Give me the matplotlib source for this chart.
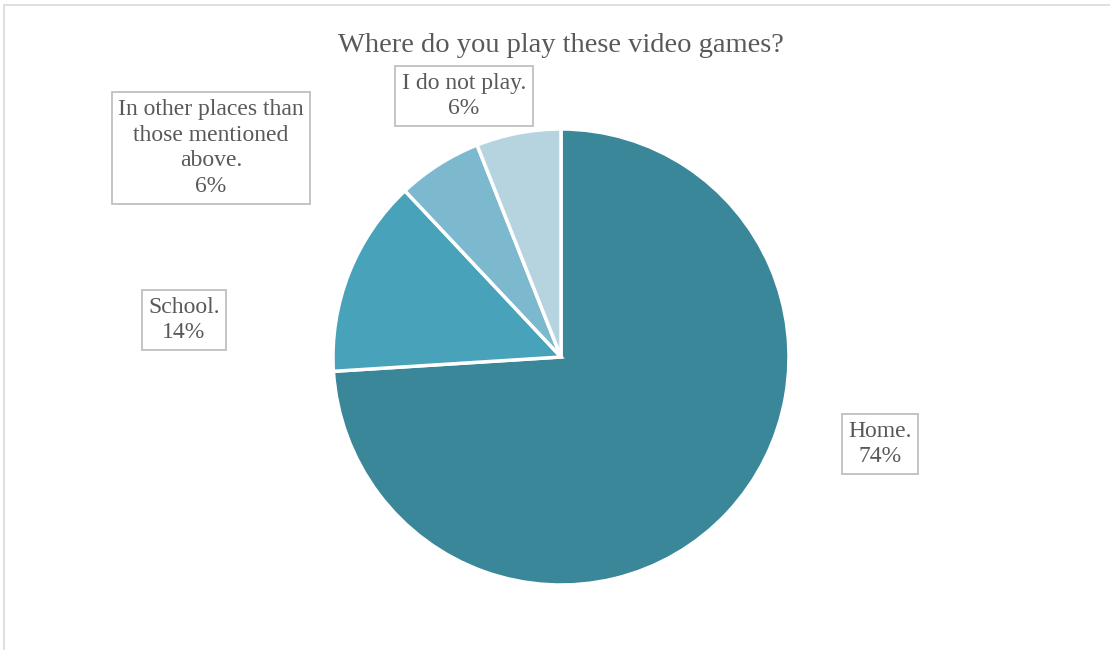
import matplotlib
matplotlib.use("Agg")
import matplotlib.pyplot as plt
from matplotlib.patches import Rectangle

labels = ["Home.", "School.", "In other places than\nthose mentioned\nabove.", "I do not play."]
values = [74, 14, 6, 6]
colors = ["#3A8799", "#48A2B9", "#7DB9CE", "#B6D4DF"]
# label box centres in pixels (from top-left)
label_pos = [(880, 444), (184, 320), (211, 148), (464, 96)]

W, H = 1110, 650
plt.rcParams['font.family'] = ['Liberation Serif', 'DejaVu Serif']
fig = plt.figure(figsize=(W / 100, H / 100), dpi=100)

# light chart frame
fig.patches.append(Rectangle((3.5 / W, -0.1), 1.5, 1.1 - 4.5 / H, transform=fig.transFigure,
                             fill=False, edgecolor="#D9D9D9", linewidth=1.2))

cx, cy, r = 561, 357, 228
ax = fig.add_axes([(cx - r) / W, (H - cy - r) / H, 2 * r / W, 2 * r / H])
ax.pie(values, colors=colors, startangle=90, counterclock=False, radius=1,
       wedgeprops=dict(edgecolor="white", linewidth=2.5))
ax.set_xlim(-1, 1)
ax.set_ylim(-1, 1)
ax.set_aspect("equal")
ax.axis("off")

for lab, v, (px, py) in zip(labels, values, label_pos):
    fig.text(px / W, 1 - py / H, "{}\n{}%".format(lab, v), ha="center", va="center",
             fontsize=17, color="#595959", linespacing=1.3,
             bbox=dict(boxstyle="square,pad=0.28", facecolor="white", edgecolor="#BFBFBF",
                       linewidth=1.3))

fig.text(561 / W, 1 - 45 / H, "Where do you play these video games?", ha="center", va="center",
         fontsize=20.5, color="#595959")

fig.savefig("out.png", dpi=100)
